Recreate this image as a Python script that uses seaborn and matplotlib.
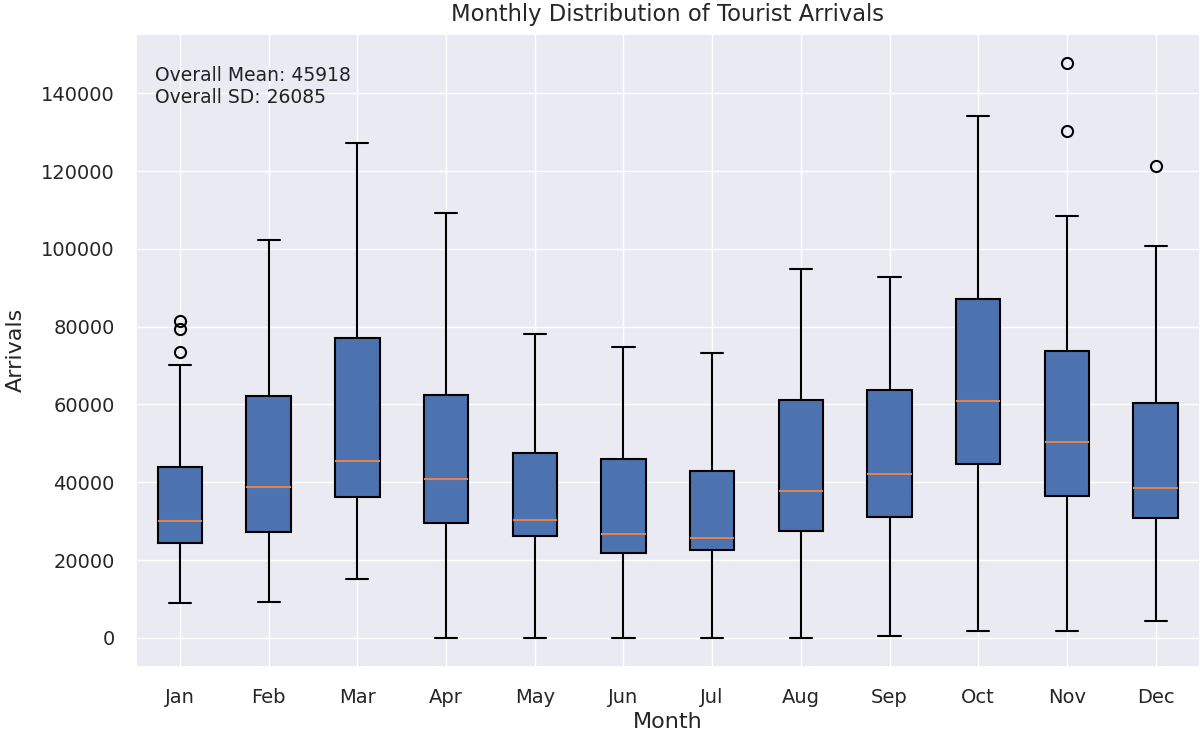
import matplotlib
matplotlib.use("Agg")
import matplotlib.pyplot as plt
import seaborn as sns
import pandas as pd

# Box statistics
months = ["Jan", "Feb", "Mar", "Apr", "May", "Jun",
          "Jul", "Aug", "Sep", "Oct", "Nov", "Dec"]
whis_low = [8900, 9250, 15100, 0, 0, 0, 0, 0, 500, 1800, 1800, 4350]
q1 = [24300, 27100, 36200, 29600, 26100, 21800, 22500, 27400, 31100, 44800, 36400, 30800]
median = [30000, 38700, 45400, 40850, 30250, 26700, 25700, 37700, 42250, 61000, 50400, 38500]
q3 = [43900, 62100, 77100, 62350, 47600, 46050, 42900, 61250, 63800, 87000, 73650, 60300]
whis_high = [70100, 102400, 127200, 109300, 78200, 74650, 73200, 94700, 92700, 134200, 108500, 100800]
outliers = [[73500, 79500, 81450], [], [], [], [], [], [], [], [], [], [130350, 147850], [121400]]

overall_mean = 45918
overall_sd = 26085


def sample_points(lo, a, m, b, hi, out, k=4):
    # 4k+1 sorted points whose quartiles land exactly on a, m, b
    low = [lo] + [a] * (k - 1)
    top = [hi] + list(out)
    top = [b] * (k - len(top)) + top
    return low + [a] + [m] * k + [b] * k + top


rows = []
for i, mon in enumerate(months):
    for v in sample_points(whis_low[i], q1[i], median[i], q3[i], whis_high[i], outliers[i]):
        rows.append({"Month": mon, "Arrivals": v})
df = pd.DataFrame(rows)

sns.set_theme(style="darkgrid")
plt.rcParams["font.family"] = ["DejaVu Sans"]

fig = plt.figure(figsize=(12, 7.37), dpi=100)
ax = fig.add_axes([0.113, 0.0954, 0.887, 0.8586])

sns.boxplot(data=df, x="Month", y="Arrivals", order=months, ax=ax,
            color="#4c72b0", saturation=1, width=0.5, linecolor="black",
            linewidth=1.5, whis=1.5,
            medianprops={"color": "#dd8452", "linewidth": 1.5},
            flierprops={"marker": "o", "markerfacecolor": "none",
                        "markeredgecolor": "black", "markersize": 8,
                        "markeredgewidth": 1.5})

# vertical grid lines at each month, as in the reference
ax.xaxis.grid(True)
ax.set_axisbelow(True)

ax.text(0.018, 0.95, f"Overall Mean: {overall_mean}\nOverall SD: {overall_sd}",
        transform=ax.transAxes, ha="left", va="top", fontsize=13.5,
        color="#222222", linespacing=1.2)

ax.set_title("Monthly Distribution of Tourist Arrivals", fontsize=16.3, pad=9)
ax.set_xlabel("Month", fontsize=16)
ax.set_ylabel("Arrivals", fontsize=16, labelpad=11)
ax.tick_params(axis="both", labelsize=14, pad=9)

fig.savefig("out.png", dpi=100)
